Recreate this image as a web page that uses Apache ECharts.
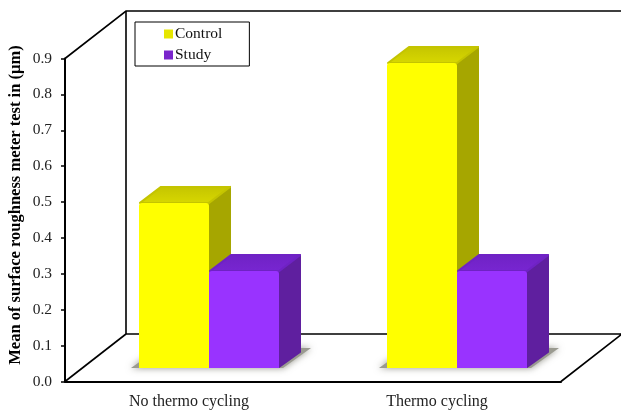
<!DOCTYPE html>
<html>
<head>
<meta charset="utf-8">
<style>html,body{margin:0;padding:0;background:#fff}#chart{width:621px;height:412px}</style>
<script src="https://cdn.jsdelivr.net/npm/echarts@6/dist/echarts.min.js"></script>
</head>
<body>
<div id="chart"></div>
<script>
// Surface roughness means by thermocycling condition
const categories = ['No thermo cycling', 'Thermo cycling'];
const controlValues = [0.46, 0.85];
const studyValues = [0.27, 0.27];
const yTicks = { min: 0, max: 0.9, interval: 0.1 };
const yTitle = 'Mean of surface roughness meter test in (µm)';

// Pseudo-3D projection: depth of the box and where the bars stand on its floor
const BOX_DX = 61, BOX_DY = -47.5;
const FLOOR_DX = 20, FLOOR_DY = -13.5;
const BAR_W = 70, BAR_DX = 22, BAR_DY = -17;

const chart = echarts.init(document.getElementById('chart'));

// Open box: back wall, floor edges and the receding lines from the axes
function renderBox(params, api) {
  const band = api.size([1, 0])[0];
  const mid = api.coord([0, 0]);
  const o = [mid[0] - band / 2, mid[1]];
  const top = api.coord([0, yTicks.max]);
  const x2 = o[0] + band * categories.length;
  const line = pts => ({
    type: 'polyline',
    shape: { points: pts },
    style: { fill: null, stroke: '#000', lineWidth: 1.6 }
  });
  const bx = o[0] + BOX_DX, by = o[1] + BOX_DY, ty = top[1] + BOX_DY;
  return {
    type: 'group',
    children: [
      line([[o[0], top[1]], [bx, ty], [x2 + BOX_DX, ty], [x2 + BOX_DX, by]]),
      line([[bx, ty], [bx, by], [x2 + BOX_DX, by], [x2, o[1]]]),
      line([[bx, by], [o[0], o[1]]])
    ]
  };
}

// Soft cast shadow of a pair of bars on the floor
function renderShadow(params, api) {
  const c = api.coord([api.value(0), 0]);
  const base = c[1] + FLOOR_DY;
  const l = c[0] + FLOOR_DX - BAR_W - 8;
  const r = c[0] + FLOOR_DX + BAR_W + 4;
  return {
    type: 'polygon',
    shape: { points: [[l, base], [r, base], [r + 28, base - 20], [l + 28, base - 20]] },
    style: { fill: '#9a9a90', shadowBlur: 7, shadowColor: 'rgba(120,120,110,0.8)' }
  };
}

// One extruded bar: side face, top face, front face
function makeBarRenderer(side, faces) {
  return function (params, api) {
    const c = api.coord([api.value(0), api.value(1)]);
    const b = api.coord([api.value(0), 0]);
    const x = c[0] + FLOOR_DX + (side < 0 ? -BAR_W : 0);
    const y = c[1] + FLOOR_DY;
    const y0 = b[1] + FLOOR_DY;
    const poly = (pts, fill, stroke) => ({
      type: 'polygon',
      shape: { points: pts },
      style: { fill: fill, stroke: stroke, lineWidth: 2, lineJoin: 'round' }
    });
    const xr = x + BAR_W;
    const topFill = {
      type: 'linear', x: 0, y: 0, x2: 0, y2: 1,
      colorStops: [{ offset: 0, color: faces.topBack }, { offset: 1, color: faces.topFront }]
    };
    return {
      type: 'group',
      children: [
        poly([[xr, y + 1], [xr + BAR_DX - 1, y + BAR_DY + 1], [xr + BAR_DX - 1, y0 + BAR_DY + 1], [xr, y0 - 1]], faces.side, faces.side),
        poly([[x + 1, y], [x + BAR_DX, y + BAR_DY + 1], [xr + BAR_DX - 1, y + BAR_DY + 1], [xr, y]], topFill, faces.topBack),
        {
          type: 'rect',
          shape: { x: x, y: y, width: BAR_W, height: y0 - y, r: [3, 3, 0, 0] },
          style: { fill: faces.front }
        }
      ]
    };
  };
}

const serif = '"Liberation Serif", "Times New Roman", serif';

chart.setOption({
  animation: false,
  backgroundColor: '#fff',
  grid: { left: 65, top: 58.5, width: 496, height: 323, outerBoundsMode: 'none' },
  legend: {
    data: ['Control', 'Study'],
    orient: 'vertical',
    left: 135,
    top: 22,
    icon: 'rect',
    itemWidth: 9,
    itemHeight: 9,
    itemGap: 5,
    padding: [4, 27, 3, 29],
    borderColor: '#000',
    borderWidth: 1,
    textStyle: { fontFamily: serif, fontSize: 15.5, color: '#111', padding: [0, 0, 0, -3] },
    selectedMode: false
  },
  xAxis: {
    type: 'category',
    data: categories,
    axisLine: { lineStyle: { color: '#000', width: 2 } },
    axisTick: { length: 5, lineStyle: { color: '#000', width: 1.5 } },
    axisLabel: { fontFamily: serif, fontSize: 16, color: '#222', margin: 12 }
  },
  yAxis: {
    type: 'value',
    min: yTicks.min,
    max: yTicks.max,
    interval: yTicks.interval,
    splitLine: { show: false },
    axisLine: { show: true, lineStyle: { color: '#000', width: 2 } },
    axisTick: { show: true, length: 4, lineStyle: { color: '#000', width: 1.5 } },
    axisLabel: { fontFamily: serif, fontSize: 15.5, color: '#222', margin: 13, formatter: v => v.toFixed(1) },
    name: yTitle,
    nameLocation: 'middle',
    nameGap: 41,
    nameMoveOverlap: false,
    nameTextStyle: { fontFamily: serif, fontSize: 16.5, fontWeight: 'bold', color: '#000', padding: [0, 0, 0, 30] }
  },
  series: [
    {
      name: 'box', type: 'custom', silent: true, clip: false, z: 1,
      renderItem: renderBox, data: [[0, 0]], encode: { x: 0, y: 1 }
    },
    {
      name: 'shadow', type: 'custom', silent: true, clip: false, z: 2,
      renderItem: renderShadow, data: categories.map((c, i) => [i, 0]), encode: { x: 0, y: 1 }
    },
    {
      name: 'Control', type: 'custom', silent: true, clip: false, z: 3,
      itemStyle: { color: '#e6e600' },
      renderItem: makeBarRenderer(-1, { front: '#ffff00', topBack: '#c4c400', topFront: '#d8d800', side: '#a6a600' }),
      data: controlValues.map((v, i) => [i, v]), encode: { x: 0, y: 1 }
    },
    {
      name: 'Study', type: 'custom', silent: true, clip: false, z: 4,
      itemStyle: { color: '#7a25cc' },
      renderItem: makeBarRenderer(1, { front: '#9933ff', topBack: '#6f22c4', topFront: '#7826d2', side: '#5f1f9f' }),
      data: studyValues.map((v, i) => [i, v]), encode: { x: 0, y: 1 }
    }
  ]
});
</script>
</body>
</html>
